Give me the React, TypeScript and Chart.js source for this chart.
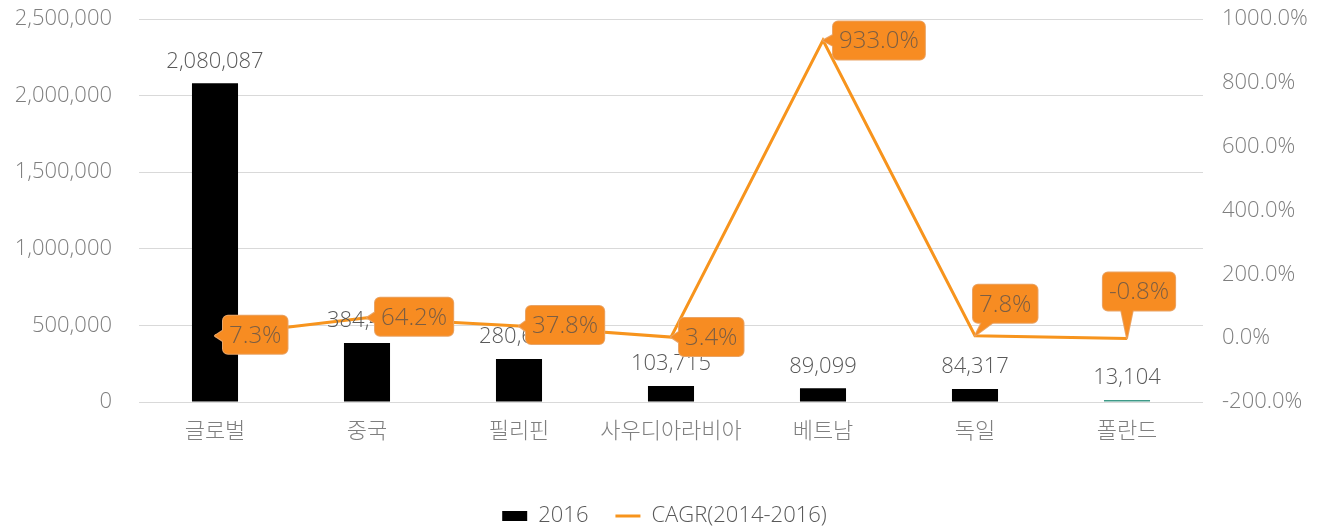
import React, { useEffect, useRef } from 'react';
import { Chart, registerables } from 'chart.js';

Chart.register(...registerables);

// ---- data ----
const categories = ['글로벌', '중국', '필리핀', '사우디아라비아', '베트남', '독일', '폴란드'];
const values2016 = [2080087, 384470, 280630, 103715, 89099, 84317, 13104];
const cagrValues = [7.3, 64.2, 37.8, 3.4, 933.0, 7.8, -0.8];
const seriesNames = ['2016', 'CAGR(2014-2016)'];
const leftAxisRange = [0, 2500000, 500000];
const rightAxisRange = [-200, 1000, 200];

// ---- styles ----
const FONT = '"Open Sans", "Noto Sans CJK KR", "Noto Sans", sans-serif';
const WEIGHT = '300';
const ORANGE = '#F7941D';
const CALLOUT_FILL = '#F78C22';
const CALLOUT_STROKE = '#E9A466';
const CALLOUT_TEXT = '#7C5E43';
const barColors = ['#000000', '#000000', '#000000', '#000000', '#000000', '#000000', '#3E9A88'];
// callout box placement relative to the point: anchor fraction (ax, ay) and offset (dx, dy)
const calloutPlacement = [
  { ax: 0, ay: 0.5, dx: 8, dy: -1 },
  { ax: 0, ay: 0.5, dx: 8, dy: -1 },
  { ax: 0, ay: 0.5, dx: 7, dy: -1 },
  { ax: 0, ay: 0.5, dx: 8, dy: 0 },
  { ax: 0, ay: 0.5, dx: 10, dy: 0 },
  { ax: 0, ay: 1, dx: -2, dy: -13 },
  { ax: 0.5, ay: 1, dx: 12, dy: -28 },
];

const W = 1329;
const H = 530;
const PLOT_BOTTOM = 402;
const PAD_BOTTOM = -7;

const clamp = (v: number, a: number, b: number) => Math.max(a, Math.min(b, v));

const labelPlugin = {
  id: 'customLabels',
  afterDatasetsDraw(chart: any) {
    const ctx = chart.ctx as CanvasRenderingContext2D;
    ctx.save();
    // bar value labels
    const barMeta = chart.getDatasetMeta(0);
    ctx.font = `${WEIGHT} 22px ${FONT}`;
    ctx.fillStyle = '#595959';
    ctx.textAlign = 'center';
    ctx.textBaseline = 'middle';
    barMeta.data.forEach((bar: any, i: number) => {
      ctx.fillText(values2016[i].toLocaleString('en-US'), bar.x, bar.y - 22);
    });

    // callouts for line
    const lineMeta = chart.getDatasetMeta(1);
    ctx.font = `${WEIGHT} 24px ${FONT}`;
    lineMeta.data.forEach((pt: any, i: number) => {
      const text = cagrValues[i].toFixed(1) + '%';
      const tw = ctx.measureText(text).width;
      const w = tw + 12;
      const h = 38;
      const p = calloutPlacement[i];
      const bx = pt.x + p.dx - p.ax * w;
      const by = pt.y + p.dy - p.ay * h;
      const half = 6;
      let tri: number[][];
      if (pt.x < bx) {
        const cy = clamp(pt.y, by + 9, by + h - 9);
        tri = [[bx + 1, cy - half], [bx + 1, cy + half], [pt.x, pt.y]];
      } else if (pt.x > bx + w) {
        const cy = clamp(pt.y, by + 9, by + h - 9);
        tri = [[bx + w - 1, cy - half], [bx + w - 1, cy + half], [pt.x, pt.y]];
      } else if (pt.y > by + h) {
        const cx = clamp(pt.x, bx + 9 + half, bx + w - 9 - half);
        tri = [[cx - half, by + h - 1], [cx + half, by + h - 1], [pt.x, pt.y]];
      } else {
        const cx = clamp(pt.x, bx + 9 + half, bx + w - 9 - half);
        tri = [[cx - half, by + 1], [cx + half, by + 1], [pt.x, pt.y]];
      }
      const boxPath = () => {
        ctx.beginPath();
        (ctx as any).roundRect(bx, by, w, h, 5);
      };
      const triPath = () => {
        ctx.beginPath();
        ctx.moveTo(tri[0][0], tri[0][1]);
        ctx.lineTo(tri[2][0], tri[2][1]);
        ctx.lineTo(tri[1][0], tri[1][1]);
        ctx.closePath();
      };
      ctx.strokeStyle = CALLOUT_STROKE;
      ctx.lineWidth = 2;
      ctx.lineJoin = 'round';
      boxPath();
      ctx.stroke();
      triPath();
      ctx.stroke();
      ctx.fillStyle = CALLOUT_FILL;
      boxPath();
      ctx.fill();
      triPath();
      ctx.fill();
      ctx.fillStyle = CALLOUT_TEXT;
      ctx.textAlign = 'center';
      ctx.textBaseline = 'middle';
      ctx.fillText(text, bx + w / 2, by + h / 2 + 1);
    });
    ctx.restore();
  },
};

export default function App() {
  const ref = useRef<HTMLCanvasElement | null>(null);

  useEffect(() => {
    document.body.style.margin = '0';
    const canvas = ref.current;
    if (!canvas) return;
    Chart.defaults.font.family = FONT;
    (Chart.defaults.font as any).weight = WEIGHT;

    const chart = new Chart(canvas, {
      type: 'bar',
      data: {
        labels: categories,
        datasets: [
          {
            type: 'bar',
            label: seriesNames[0],
            data: values2016,
            backgroundColor: barColors,
            borderWidth: 0,
            yAxisID: 'y',
            order: 1,
            barPercentage: 0.303,
            categoryPercentage: 1,
          },
          {
            type: 'line',
            label: seriesNames[1],
            data: cagrValues,
            borderColor: ORANGE,
            backgroundColor: ORANGE,
            borderWidth: 3,
            pointRadius: 0,
            pointHoverRadius: 0,
            tension: 0,
            borderJoinStyle: 'miter',
            yAxisID: 'y1',
            order: 0,
          },
        ] as any,
      },
      options: {
        responsive: false,
        animation: false,
        events: [],
        layout: { padding: { top: 19, bottom: PAD_BOTTOM, left: 0, right: 0 } },
        plugins: {
          tooltip: { enabled: false },
          legend: {
            position: 'bottom',
            labels: {
              usePointStyle: true,
              pointStyleWidth: 25,
              boxWidth: 25,
              boxHeight: 10,
              padding: 27,
              color: '#595959',
              font: { size: 22, weight: WEIGHT },
              sort: (a: any, b: any) => a.datasetIndex - b.datasetIndex,
              generateLabels: (chart: any) => {
                const items = (Chart.defaults.plugins.legend.labels as any).generateLabels(chart);
                return items.map((it: any) => {
                  if (it.datasetIndex === 0) {
                    return { ...it, pointStyle: 'rect', fillStyle: '#000000', strokeStyle: '#000000', lineWidth: 0 };
                  }
                  return { ...it, pointStyle: 'line', fillStyle: ORANGE, strokeStyle: ORANGE, lineWidth: 3 };
                });
              },
            },
          },
        },
        scales: {
          x: {
            grid: { display: false, drawTicks: false },
            border: { display: false },
            ticks: { color: '#7F7F7F', font: { size: 22, weight: WEIGHT }, padding: 17, maxRotation: 0, autoSkip: false },
            afterFit: (s: any) => {
              s.paddingLeft = 0;
              s.paddingRight = 0;
              const lg = s.chart.legend;
              s.height = H - PLOT_BOTTOM - (lg ? lg.height : 0) - PAD_BOTTOM;
            },
          },
          y: {
            position: 'left',
            min: leftAxisRange[0],
            max: leftAxisRange[1],
            ticks: {
              stepSize: leftAxisRange[2],
              color: '#7F7F7F',
              font: { size: 22, weight: WEIGHT },
              padding: 27,
              callback: (v: any) => Number(v).toLocaleString('en-US'),
            },
            grid: { color: '#D9D9D9', lineWidth: 1, drawTicks: false },
            border: { display: false },
            afterFit: (s: any) => {
              s.width = 139;
              s.paddingTop = 0;
              s.paddingBottom = 0;
            },
          },
          y1: {
            position: 'right',
            min: rightAxisRange[0],
            max: rightAxisRange[1],
            ticks: {
              stepSize: rightAxisRange[2],
              color: '#7F7F7F',
              font: { size: 22, weight: WEIGHT },
              padding: 19,
              callback: (v: any) => Number(v).toFixed(1) + '%',
            },
            grid: { display: false, drawTicks: false },
            border: { display: false },
            afterFit: (s: any) => {
              s.width = W - 1203;
              s.paddingTop = 0;
              s.paddingBottom = 0;
            },
          },
        },
      } as any,
      plugins: [labelPlugin],
    });

    return () => chart.destroy();
  }, []);

  return (
    <div style={{ width: W, height: H }}>
      <canvas ref={ref} width={W} height={H} style={{ display: 'block' }} />
    </div>
  );
}
